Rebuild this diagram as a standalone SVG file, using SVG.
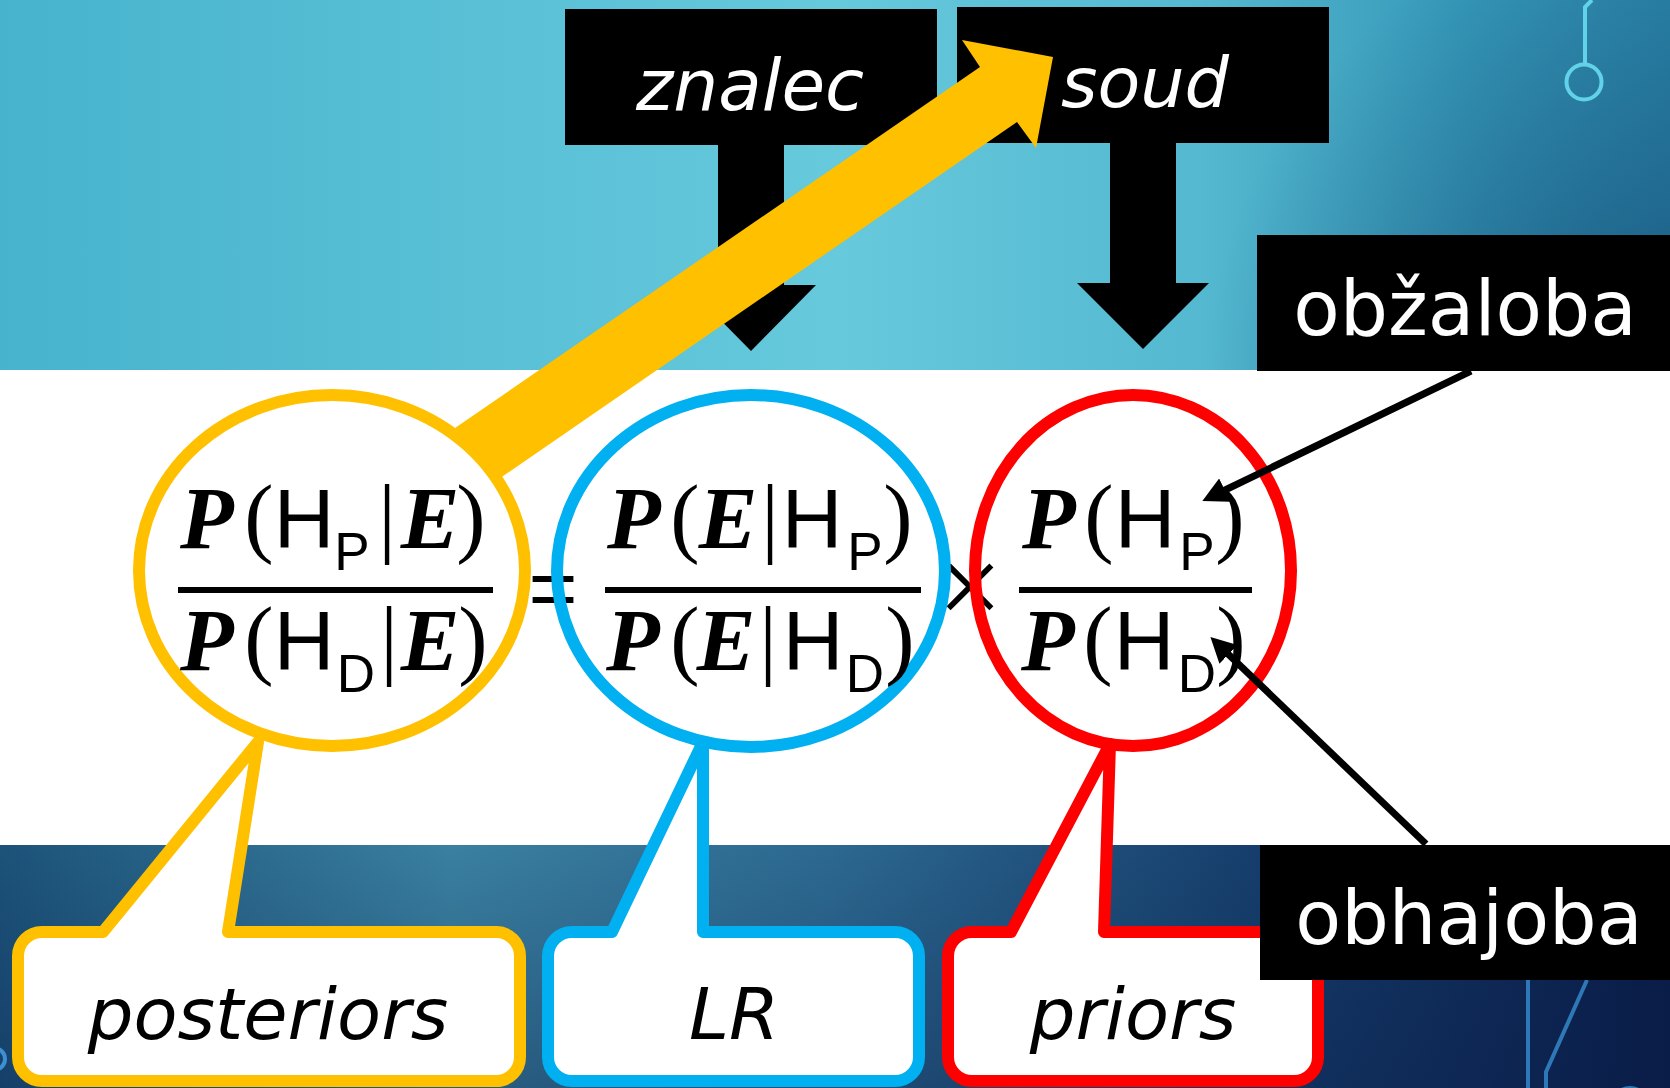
<svg xmlns="http://www.w3.org/2000/svg" width="1670" height="1088" viewBox="0 0 1670 1088">
  <defs>
    <linearGradient id="topBand" x1="0" y1="0" x2="1" y2="0">
      <stop offset="0" stop-color="#47b3cd"/>
      <stop offset="0.5" stop-color="#66c9dc"/>
      <stop offset="0.72" stop-color="#54b8d0"/>
      <stop offset="0.88" stop-color="#3598b8"/>
      <stop offset="1" stop-color="#2a84a8"/>
    </linearGradient>
    <radialGradient id="topShade" cx="1670" cy="370" r="460" gradientUnits="userSpaceOnUse">
      <stop offset="0" stop-color="#164c76" stop-opacity="0.75"/>
      <stop offset="1" stop-color="#164c76" stop-opacity="0"/>
    </radialGradient>
    <linearGradient id="bottomBand" x1="0" y1="0" x2="1" y2="0">
      <stop offset="0" stop-color="#1c5279"/>
      <stop offset="0.27" stop-color="#3a80a0"/>
      <stop offset="0.5" stop-color="#2c6890"/>
      <stop offset="0.75" stop-color="#163e6c"/>
      <stop offset="1" stop-color="#0a1c48"/>
    </linearGradient>
    <linearGradient id="bottomShade" x1="0" y1="0" x2="0" y2="1">
      <stop offset="0" stop-color="#0a1c48" stop-opacity="0"/>
      <stop offset="1" stop-color="#0a1c48" stop-opacity="0.35"/>
    </linearGradient>
    <marker id="ah" markerUnits="userSpaceOnUse" markerWidth="28" markerHeight="28" refX="2" refY="13" orient="auto">
      <path d="M0,0 L25,13 L0,26 Z" fill="#000"/>
    </marker>
  </defs>
  <style>
    .box { fill: #000; }
    .lbl { font-family: "DejaVu Sans", "Liberation Sans", sans-serif; fill: #fff; text-anchor: middle; }
    .it { font-style: italic; }
    .cl { fill: #fff; stroke-width: 12; stroke-linejoin: round; }
    .cltext { font-family: "DejaVu Sans", "Liberation Sans", sans-serif; font-style: italic; font-size: 72px; fill: #000; text-anchor: middle; }
    .ring { fill: none; stroke-width: 12; }
    .bar { fill: #000; }
    .f { text-anchor: middle; fill: #000; }
    .bi { font-family: "Liberation Serif", serif; font-weight: bold; font-style: italic; font-size: 88px; }
    .pr { font-family: "Liberation Serif", serif; font-size: 88px; }
    .h { font-family: "Liberation Sans", sans-serif; font-size: 84px; }
    .sub { font-family: "Liberation Sans", sans-serif; font-size: 53px; }
    .op { fill: #000; text-anchor: middle; }
    .link { stroke: #000; stroke-width: 7; fill: none; marker-end: url(#ah); }
    .deco { fill: none; stroke-width: 4; }
  </style>

  <!-- background bands -->
  <rect x="0" y="0" width="1670" height="370" fill="url(#topBand)"/>
  <rect x="0" y="0" width="1670" height="370" fill="url(#topShade)"/>
  <rect x="0" y="370" width="1670" height="475" fill="#fff"/>
  <rect x="0" y="845" width="1670" height="243" fill="url(#bottomBand)"/>
  <rect x="0" y="845" width="1670" height="243" fill="url(#bottomShade)"/>

  <!-- circuit decorations -->
  <g id="decor">
    <path class="deco" d="M1592,0 L1585,7 V64" stroke="#62d2e8" stroke-width="3.5"/>
    <circle class="deco" cx="1584" cy="82" r="17.5" stroke="#62d2e8" stroke-width="3.5"/>
    <circle class="deco" cx="-6" cy="1059" r="11" stroke="#3d8fd4" stroke-width="3"/>
    <path class="deco" d="M1528,980 V1088" stroke="#2f78b8"/>
    <path class="deco" d="M1587,980 L1546,1072 V1088" stroke="#2f78b8"/>
    <circle class="deco" cx="1630" cy="1106" r="18" stroke="#2f78b8"/>
  </g>

  <!-- operators between the fractions -->
  <text class="op" x="553" y="617" font-family="Liberation Sans, sans-serif" font-size="84">=</text>
  <text class="op" x="970" y="625" font-family="Liberation Serif, serif" font-size="115">×</text>

  <!-- callouts -->
  <g id="posteriors">
    <path class="cl" stroke="#ffc000" d="M42,932 H103 L258,742 L228,932 H496 A24,24 0 0 1 520,956 V1057 A24,24 0 0 1 496,1081 H42 A24,24 0 0 1 18,1057 V956 A24,24 0 0 1 42,932 Z"/>
    <text class="cltext" x="268" y="1039">posteriors</text>
  </g>
  <g id="lr">
    <path class="cl" stroke="#00b0f0" d="M572,932 H612 L703,742 L703,932 H895 A24,24 0 0 1 919,956 V1057 A24,24 0 0 1 895,1081 H572 A24,24 0 0 1 548,1057 V956 A24,24 0 0 1 572,932 Z"/>
    <text class="cltext" x="734" y="1039">LR</text>
  </g>
  <g id="priors">
    <path class="cl" stroke="#ff0000" d="M972,932 H1011 L1110,744 L1104,932 H1294 A24,24 0 0 1 1318,956 V1057 A24,24 0 0 1 1294,1081 H972 A24,24 0 0 1 948,1057 V956 A24,24 0 0 1 972,932 Z"/>
    <text class="cltext" x="1133" y="1039">priors</text>
  </g>

  <!-- posterior odds -->
  <g id="post-odds">
    <ellipse class="ring" stroke="#ffc000" cx="332" cy="570.5" rx="193" ry="175.5"/>
    <rect class="bar" x="178" y="587" width="315" height="6"/>
    <text class="f" y="548">
      <tspan class="bi" x="207">P</tspan><tspan class="pr" x="259" y="546">(</tspan><tspan class="h" x="304" y="548">H</tspan><tspan class="sub" x="352" y="570">P</tspan><tspan class="pr" x="387" y="546">|</tspan><tspan class="bi" x="430" y="548">E</tspan><tspan class="pr" x="471" y="546">)</tspan>
    </text>
    <text class="f" y="670">
      <tspan class="bi" x="207">P</tspan><tspan class="pr" x="259" y="668">(</tspan><tspan class="h" x="304" y="670">H</tspan><tspan class="sub" x="356" y="692">D</tspan><tspan class="pr" x="389" y="668">|</tspan><tspan class="bi" x="430" y="670">E</tspan><tspan class="pr" x="473" y="668">)</tspan>
    </text>
  </g>

  <!-- likelihood ratio -->
  <g id="lr-ratio">
    <ellipse class="ring" stroke="#00b0f0" cx="751" cy="571" rx="194" ry="176"/>
    <rect class="bar" x="605" y="587" width="316" height="6"/>
    <text class="f" y="548">
      <tspan class="bi" x="634">P</tspan><tspan class="pr" x="685" y="546">(</tspan><tspan class="bi" x="728" y="548">E</tspan><tspan class="pr" x="770" y="546">|</tspan><tspan class="h" x="812" y="548">H</tspan><tspan class="sub" x="865" y="570">P</tspan><tspan class="pr" x="898" y="546">)</tspan>
    </text>
    <text class="f" y="670">
      <tspan class="bi" x="633">P</tspan><tspan class="pr" x="685" y="668">(</tspan><tspan class="bi" x="726" y="670">E</tspan><tspan class="pr" x="768" y="668">|</tspan><tspan class="h" x="813" y="670">H</tspan><tspan class="sub" x="865" y="692">D</tspan><tspan class="pr" x="900" y="668">)</tspan>
    </text>
  </g>

  <!-- prior odds -->
  <g id="prior-odds">
    <ellipse class="ring" stroke="#ff0000" cx="1133" cy="570.5" rx="158" ry="175.5"/>
    <rect class="bar" x="1019" y="587" width="233" height="6"/>
    <text class="f" y="548">
      <tspan class="bi" x="1049">P</tspan><tspan class="pr" x="1099" y="546">(</tspan><tspan class="h" x="1145" y="548">H</tspan><tspan class="sub" x="1197" y="570">P</tspan><tspan class="pr" x="1230" y="546">)</tspan>
    </text>
    <text class="f" y="670">
      <tspan class="bi" x="1048">P</tspan><tspan class="pr" x="1098" y="668">(</tspan><tspan class="h" x="1144" y="670">H</tspan><tspan class="sub" x="1197" y="692">D</tspan><tspan class="pr" x="1231" y="668">)</tspan>
    </text>
  </g>

  <!-- expert and court with their down arrows -->
  <g id="znalec">
    <rect class="box" x="565" y="9" width="372" height="136"/>
    <path class="box" d="M718,145 H784 V285 H816 L751,351 L686,285 H718 Z"/>
    <text class="lbl it" x="750" y="110" font-size="71">znalec</text>
  </g>
  <g id="soud">
    <rect class="box" x="957" y="7" width="372" height="136"/>
    <path class="box" d="M1110,143 H1176 V283 H1209 L1143,349 L1077,283 H1110 Z"/>
    <text class="lbl it" x="1145" y="107" font-size="70">soud</text>
  </g>

  <!-- connectors -->
  <g id="connectors">
    <polygon id="posterior-to-court" fill="#ffc000" points="455,428 980,67 962,40 1053,57 1036,148 1017,122 493,483"/>
    <line class="link" x1="1471" y1="371" x2="1223" y2="491"/>
    <line class="link" x1="1426" y1="844" x2="1227" y2="653"/>
  </g>

  <!-- prosecution and defence -->
  <g id="obzaloba">
    <rect class="box" x="1257" y="235" width="413" height="136"/>
    <text class="lbl" x="1465" y="335" font-size="76">obžaloba</text>
  </g>
  <g id="obhajoba">
    <rect class="box" x="1260" y="845" width="410" height="135"/>
    <text class="lbl" x="1469" y="944" font-size="75">obhajoba</text>
  </g>
</svg>
